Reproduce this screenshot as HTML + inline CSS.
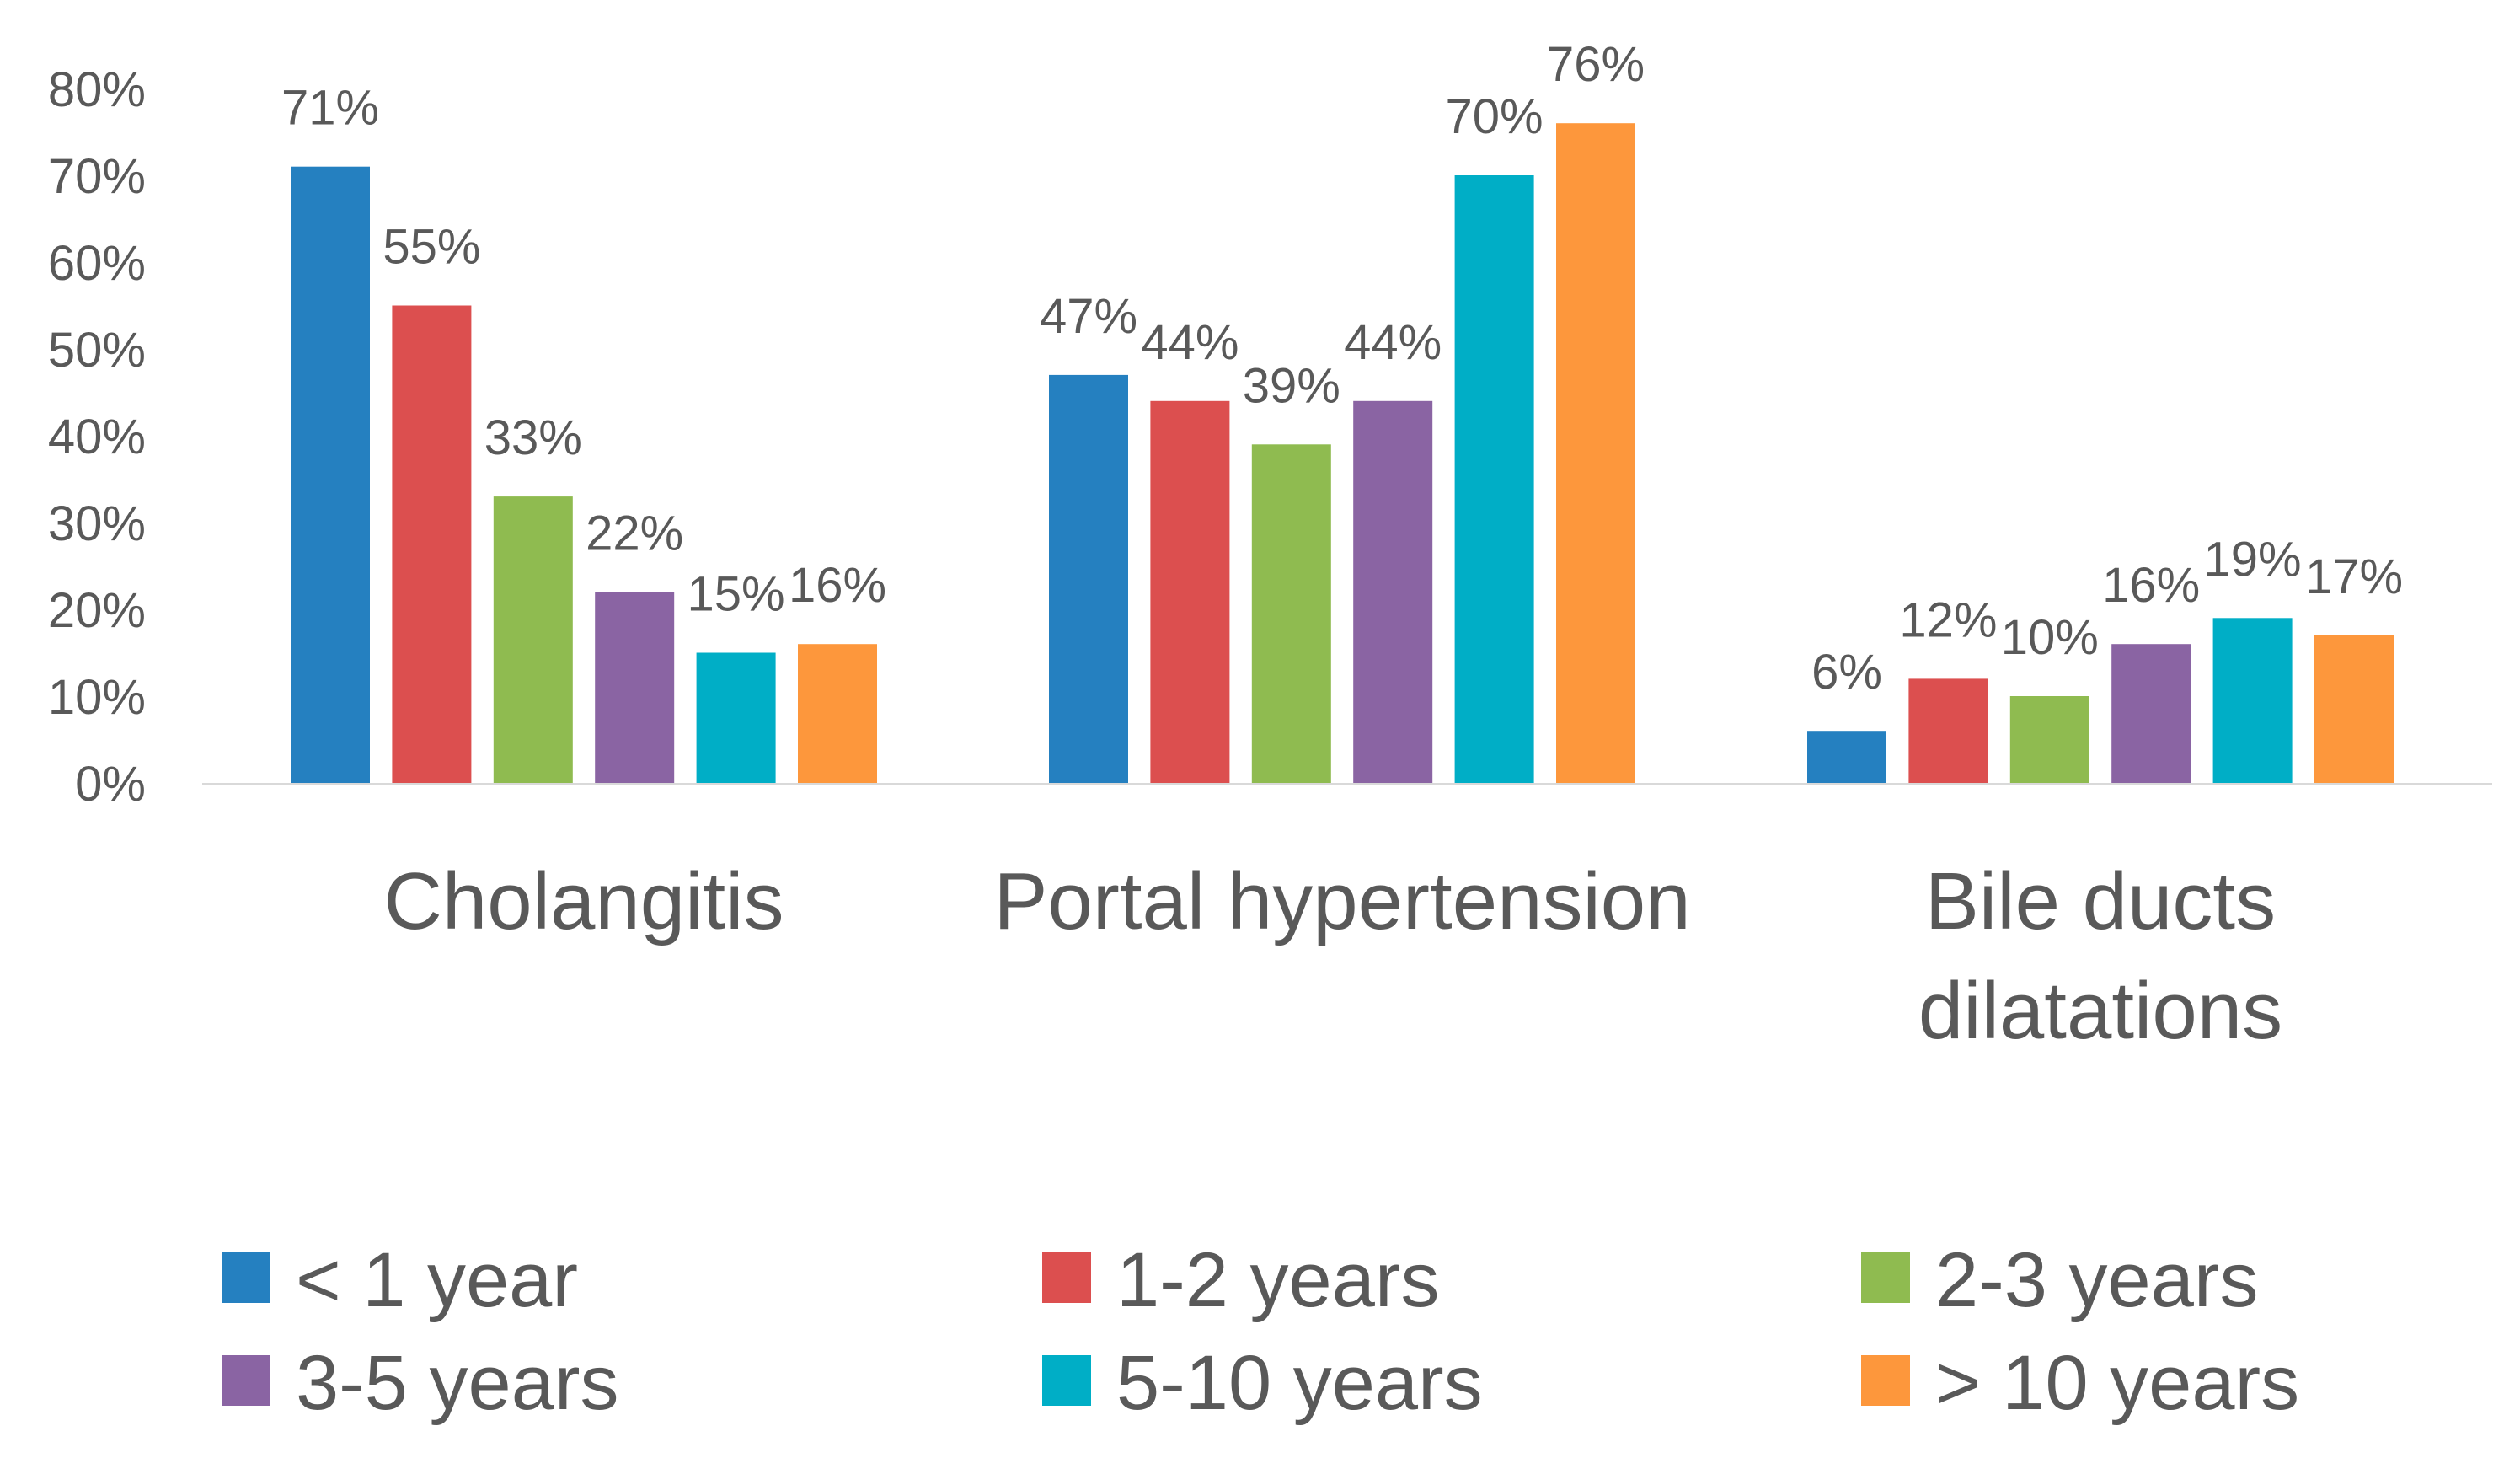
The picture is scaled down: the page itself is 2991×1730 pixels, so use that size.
<!DOCTYPE html>
<html><head><meta charset="utf-8">
<style>
html,body{margin:0;padding:0;background:#fff;}
svg{display:block;}
text{font-family:"Liberation Sans",sans-serif;fill:#595959;}
</style></head>
<body>
<svg id="chart" width="2991" height="1730" viewBox="0 0 2991 1730" xmlns="http://www.w3.org/2000/svg">
<g id="axis"></g>
<g id="bars"></g>
<g id="labels"></g>
<g id="cats"></g>
<g id="legend"></g>
</svg>
<script>
const categories = [["Cholangitis"], ["Portal hypertension"], ["Bile ducts", "dilatations"]];
const seriesNames = ["< 1 year", "1-2 years", "2-3 years", "3-5 years", "5-10 years", "> 10 years"];
const s1 = [71, 47, 6];
const s2 = [55, 44, 12];
const s3 = [33, 39, 10];
const s4 = [22, 44, 16];
const s5 = [15, 70, 19];
const s6 = [16, 76, 17];
const yTicks = [0, 10, 20, 30, 40, 50, 60, 70, 80];

const series = [s1, s2, s3, s4, s5, s6];
const colors = ["#2580c0", "#dc4f4f", "#8fbb50", "#8a64a3", "#00aec6", "#fd973c"];
const NS = "http://www.w3.org/2000/svg";
const x0 = 240, x1 = 2958, base = 929, unit = 10.3;
const firstCenter = 693, catStep = 900;
const step = 120.4, bw = 94;
function y(v) { return base - v * unit; }
function xBar(ci, si) { return firstCenter + catStep * ci + (si - 2.5) * step - bw / 2; }
function mk(tag, attrs, parent) {
  const e = document.createElementNS(NS, tag);
  for (const k in attrs) e.setAttribute(k, attrs[k]);
  parent.appendChild(e);
  return e;
}
const axis = document.getElementById('axis');
yTicks.forEach(t => {
  const tx = mk('text', {x: 173, y: y(t) + 21, 'font-size': 58, 'text-anchor': 'end'}, axis);
  
  
  tx.textContent = t + '%';
});
const ax = mk('line', {x1: x0, x2: x1, y1: base + 1.5, y2: base + 1.5, stroke: '#d9d9d9', 'stroke-width': 3}, axis);



const bars = document.getElementById('bars');
const labels = document.getElementById('labels');
series.forEach((s, si) => {
  s.forEach((v, ci) => {
    const r = mk('rect', {x: xBar(ci, si), y: y(v), width: bw, height: v * unit, fill: colors[si]}, bars);
    
    
    const t = mk('text', {x: xBar(ci, si) + bw / 2, y: y(v) - 50, 'font-size': 58, 'text-anchor': 'middle'}, labels);
    
    
    t.textContent = v + '%';
  });
});
const cats = document.getElementById('cats');
categories.forEach((lines, ci) => {
  lines.forEach((ln, li) => {
    const t = mk('text', {x: firstCenter + catStep * ci, y: 1102 + li * 130, 'font-size': 96, 'text-anchor': 'middle'}, cats);
    
    
    t.textContent = ln;
  });
});
const legend = document.getElementById('legend');
const lx = [263, 1237, 2209], ly = [1496, 1618];
seriesNames.forEach((n, i) => {
  const gx = lx[i % 3], gy = ly[Math.floor(i / 3)];
  const g = mk('g', {}, legend);
  
  
  const r = mk('rect', {x: gx, y: gy - 10, width: 58, height: 60, fill: colors[i]}, g);
  
  
  const t = mk('text', {x: gx + 88, y: gy + 54, 'font-size': 92}, g);
  
  
  t.textContent = n;
});
</script>
</body></html>
